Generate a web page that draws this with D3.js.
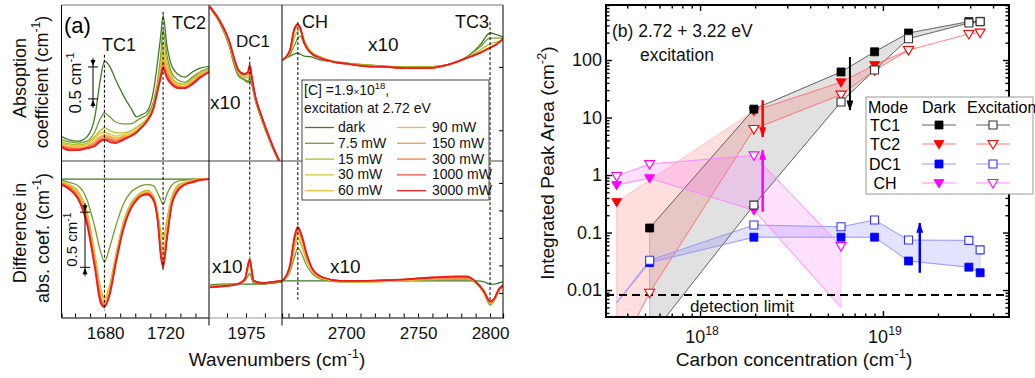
<!DOCTYPE html>
<html>
<head>
<meta charset="utf-8">
<script src="https://cdn.jsdelivr.net/npm/d3@7"></script>
<style>
  body { margin: 0; background: #fff; }
  svg { display: block; font-family: "Liberation Sans", Arial, sans-serif; }
</style>
</head>
<body>
<svg id="chart" width="1035" height="378"></svg>
<script>
// ---------------- panel (a): spectra ----------------
const powers = ['dark', '7.5 mW', '15 mW', '30 mW', '60 mW', '90 mW', '150 mW', '300 mW', '1000 mW', '3000 mW'];

// absorption, 1651-1749 cm-1 (cm-1)
const absLeftWn = [1651, 1656, 1662, 1668, 1673, 1677, 1679.5, 1683, 1687, 1692, 1697, 1701, 1704, 1708, 1712, 1715, 1717, 1718.5, 1721, 1724, 1728, 1733, 1738, 1743, 1749];
const absLeft = [
  [0.38, 0.33, 0.31, 0.38, 0.67, 1.30, 1.56, 1.48, 1.27, 1.03, 0.83, 0.69, 0.72, 0.78, 1.08, 1.58, 1.97, 2.27, 1.81, 1.50, 1.36, 1.31, 1.39, 1.45, 1.48],
  [0.33, 0.30, 0.28, 0.31, 0.45, 0.67, 0.75, 0.69, 0.61, 0.58, 0.58, 0.63, 0.67, 0.73, 0.92, 1.27, 1.66, 2.05, 1.66, 1.39, 1.27, 1.23, 1.31, 1.39, 1.45],
  [0.30, 0.27, 0.25, 0.28, 0.38, 0.48, 0.52, 0.48, 0.44, 0.44, 0.47, 0.53, 0.58, 0.67, 0.88, 1.20, 1.55, 1.86, 1.55, 1.33, 1.22, 1.20, 1.28, 1.38, 1.44],
  [0.28, 0.25, 0.23, 0.27, 0.34, 0.44, 0.45, 0.42, 0.39, 0.41, 0.44, 0.50, 0.55, 0.66, 0.86, 1.17, 1.48, 1.73, 1.48, 1.30, 1.20, 1.19, 1.27, 1.36, 1.42],
  [0.27, 0.23, 0.22, 0.25, 0.31, 0.39, 0.41, 0.39, 0.36, 0.39, 0.42, 0.48, 0.53, 0.64, 0.84, 1.16, 1.44, 1.66, 1.44, 1.28, 1.19, 1.17, 1.25, 1.34, 1.42],
  [0.25, 0.22, 0.20, 0.23, 0.30, 0.38, 0.39, 0.38, 0.34, 0.38, 0.41, 0.47, 0.53, 0.64, 0.84, 1.14, 1.41, 1.61, 1.41, 1.27, 1.17, 1.16, 1.23, 1.33, 1.41],
  [0.25, 0.20, 0.20, 0.22, 0.28, 0.36, 0.38, 0.36, 0.33, 0.36, 0.41, 0.47, 0.53, 0.64, 0.83, 1.14, 1.38, 1.56, 1.38, 1.25, 1.17, 1.16, 1.23, 1.33, 1.41],
  [0.23, 0.20, 0.19, 0.22, 0.27, 0.34, 0.36, 0.34, 0.31, 0.36, 0.39, 0.45, 0.52, 0.63, 0.83, 1.13, 1.36, 1.53, 1.36, 1.23, 1.16, 1.14, 1.22, 1.31, 1.39],
  [0.23, 0.19, 0.19, 0.20, 0.25, 0.33, 0.34, 0.33, 0.30, 0.34, 0.39, 0.45, 0.52, 0.63, 0.83, 1.13, 1.34, 1.48, 1.33, 1.22, 1.16, 1.14, 1.22, 1.31, 1.39],
  [0.22, 0.17, 0.17, 0.20, 0.23, 0.31, 0.33, 0.30, 0.28, 0.33, 0.39, 0.45, 0.52, 0.63, 0.81, 1.11, 1.31, 1.45, 1.30, 1.20, 1.14, 1.14, 1.20, 1.30, 1.39]
];

// absorption x10, DC1 region
const absMidWn = [1956, 1961, 1966, 1969, 1971, 1974, 1976, 1977, 1978, 1980, 1983, 1986, 1990, 1994];
const absMid = [
  [2.39, 2.17, 1.81, 1.48, 1.33, 1.27, 1.23, 1.25, 1.20, 0.94, 0.67, 0.42, 0.14, -0.11],
  [2.39, 2.17, 1.83, 1.50, 1.34, 1.28, 1.25, 1.28, 1.22, 0.95, 0.67, 0.44, 0.14, -0.11],
  [2.39, 2.19, 1.84, 1.53, 1.38, 1.31, 1.30, 1.34, 1.27, 0.97, 0.69, 0.44, 0.16, -0.11],
  [2.41, 2.19, 1.86, 1.55, 1.39, 1.33, 1.33, 1.39, 1.28, 0.98, 0.70, 0.45, 0.16, -0.09],
  [2.41, 2.19, 1.86, 1.55, 1.39, 1.33, 1.34, 1.42, 1.30, 0.98, 0.70, 0.45, 0.16, -0.09],
  [2.41, 2.20, 1.88, 1.56, 1.41, 1.34, 1.36, 1.44, 1.30, 0.98, 0.70, 0.45, 0.17, -0.09],
  [2.41, 2.20, 1.88, 1.56, 1.41, 1.34, 1.36, 1.45, 1.31, 1.00, 0.72, 0.47, 0.17, -0.09],
  [2.41, 2.20, 1.89, 1.58, 1.42, 1.36, 1.38, 1.47, 1.31, 1.00, 0.72, 0.47, 0.17, -0.08],
  [2.41, 2.20, 1.89, 1.58, 1.42, 1.36, 1.39, 1.48, 1.33, 1.00, 0.72, 0.47, 0.17, -0.08],
  [2.41, 2.20, 1.89, 1.58, 1.42, 1.36, 1.39, 1.50, 1.33, 1.00, 0.72, 0.47, 0.17, -0.08]
];

// absorption x10, CH / TC3 region
const absRightWn = [2656, 2661, 2664, 2666.5, 2668, 2671, 2675, 2682, 2691, 2700, 2714, 2728, 2742, 2756, 2770, 2784, 2793, 2800, 2805, 2809];
const absRight = [
  [1.58, 1.64, 1.67, 1.69, 1.67, 1.64, 1.63, 1.58, 1.55, 1.53, 1.50, 1.48, 1.47, 1.47, 1.50, 1.63, 1.81, 2.00, 1.97, 1.94],
  [1.58, 1.66, 1.80, 1.92, 1.95, 1.83, 1.70, 1.61, 1.56, 1.53, 1.50, 1.48, 1.47, 1.47, 1.50, 1.63, 1.78, 1.92, 1.92, 1.92],
  [1.58, 1.69, 1.92, 2.03, 2.05, 1.89, 1.73, 1.63, 1.56, 1.53, 1.50, 1.48, 1.47, 1.47, 1.50, 1.61, 1.73, 1.83, 1.86, 1.89],
  [1.58, 1.72, 2.02, 2.10, 2.07, 1.85, 1.71, 1.62, 1.55, 1.52, 1.48, 1.47, 1.45, 1.45, 1.50, 1.61, 1.70, 1.78, 1.83, 1.91],
  [1.58, 1.72, 2.04, 2.11, 2.08, 1.85, 1.70, 1.61, 1.55, 1.52, 1.48, 1.47, 1.45, 1.45, 1.50, 1.61, 1.69, 1.77, 1.83, 1.91],
  [1.58, 1.73, 2.05, 2.12, 2.08, 1.84, 1.70, 1.61, 1.55, 1.52, 1.48, 1.47, 1.45, 1.45, 1.50, 1.61, 1.69, 1.77, 1.83, 1.91],
  [1.58, 1.73, 2.05, 2.12, 2.09, 1.84, 1.70, 1.61, 1.55, 1.52, 1.48, 1.47, 1.45, 1.45, 1.50, 1.61, 1.69, 1.77, 1.83, 1.91],
  [1.58, 1.73, 2.06, 2.13, 2.09, 1.84, 1.70, 1.61, 1.55, 1.52, 1.48, 1.47, 1.45, 1.45, 1.50, 1.61, 1.69, 1.77, 1.83, 1.91],
  [1.58, 1.73, 2.06, 2.13, 2.09, 1.84, 1.70, 1.61, 1.55, 1.52, 1.48, 1.47, 1.45, 1.45, 1.50, 1.61, 1.69, 1.77, 1.83, 1.91],
  [1.58, 1.73, 2.06, 2.14, 2.09, 1.84, 1.70, 1.61, 1.55, 1.52, 1.48, 1.47, 1.45, 1.45, 1.50, 1.61, 1.69, 1.77, 1.83, 1.91]
];

// difference in absorption, 1651-1749 cm-1 (cm-1)
const diffLeftWn = absLeftWn;
const diffLeft = [
  [0, 0, 0, 0, 0, 0, 0, 0, 0, 0, 0, 0, 0, 0, 0, 0, 0, 0, 0, 0, 0, 0, 0, 0, 0],
  [-0.01, -0.03, -0.06, -0.19, -0.43, -0.66, -0.75, -0.62, -0.43, -0.23, -0.12, -0.08, -0.06, -0.05, -0.06, -0.13, -0.19, -0.23, -0.14, -0.06, -0.02, -0.01, 0, 0, 0],
  [-0.02, -0.05, -0.11, -0.30, -0.66, -0.99, -1.08, -0.96, -0.69, -0.39, -0.22, -0.15, -0.12, -0.10, -0.15, -0.30, -0.48, -0.55, -0.37, -0.17, -0.06, -0.03, -0.01, 0, 0],
  [-0.03, -0.05, -0.13, -0.33, -0.70, -1.03, -1.11, -0.99, -0.72, -0.41, -0.24, -0.16, -0.13, -0.11, -0.15, -0.33, -0.55, -0.65, -0.43, -0.19, -0.07, -0.03, -0.01, 0, 0],
  [-0.03, -0.06, -0.14, -0.35, -0.72, -1.05, -1.12, -1.00, -0.73, -0.42, -0.25, -0.16, -0.14, -0.11, -0.16, -0.35, -0.60, -0.69, -0.46, -0.21, -0.08, -0.04, -0.01, 0, 0],
  [-0.04, -0.06, -0.15, -0.35, -0.73, -1.05, -1.13, -1.01, -0.74, -0.43, -0.25, -0.17, -0.14, -0.12, -0.16, -0.35, -0.63, -0.72, -0.48, -0.22, -0.08, -0.04, -0.01, 0, 0],
  [-0.04, -0.07, -0.15, -0.36, -0.74, -1.06, -1.14, -1.02, -0.75, -0.44, -0.25, -0.17, -0.15, -0.12, -0.17, -0.36, -0.65, -0.75, -0.50, -0.23, -0.09, -0.04, -0.02, 0, 0],
  [-0.04, -0.07, -0.16, -0.37, -0.75, -1.08, -1.15, -1.03, -0.75, -0.45, -0.26, -0.18, -0.15, -0.13, -0.17, -0.37, -0.66, -0.76, -0.52, -0.24, -0.09, -0.05, -0.02, 0, 0],
  [-0.05, -0.08, -0.17, -0.39, -0.77, -1.10, -1.15, -1.04, -0.76, -0.45, -0.26, -0.18, -0.15, -0.13, -0.18, -0.38, -0.68, -0.78, -0.54, -0.25, -0.10, -0.05, -0.02, -0.01, 0],
  [-0.05, -0.09, -0.18, -0.41, -0.79, -1.12, -1.16, -1.05, -0.77, -0.46, -0.27, -0.19, -0.15, -0.14, -0.19, -0.39, -0.70, -0.80, -0.55, -0.25, -0.11, -0.05, -0.03, -0.01, 0]
];

// difference x10, DC1 region
const diffMidWn = [1956, 1962, 1968, 1972, 1974.5, 1976, 1977, 1978, 1979, 1984, 1989, 1994];
const diffMid = [
  [-0.02, -0.01, -0.01, -0.01, -0.01, -0.01, -0.01, -0.01, -0.01, -0.01, 0, 0.01],
  [-0.03, -0.02, -0.01, 0, 0.02, 0.06, 0.09, 0.04, 0, -0.01, 0, 0.01],
  [-0.03, -0.02, -0.02, 0, 0.03, 0.12, 0.16, 0.09, 0.01, 0, 0.01, 0.02],
  [-0.04, -0.03, -0.02, 0, 0.03, 0.13, 0.18, 0.10, 0.02, 0, 0.01, 0.02],
  [-0.04, -0.03, -0.02, 0, 0.04, 0.14, 0.19, 0.10, 0.02, 0, 0.01, 0.02],
  [-0.04, -0.03, -0.02, 0, 0.04, 0.14, 0.20, 0.11, 0.02, 0, 0.01, 0.02],
  [-0.04, -0.03, -0.02, 0, 0.04, 0.15, 0.20, 0.11, 0.02, 0, 0.01, 0.02],
  [-0.04, -0.03, -0.02, 0, 0.04, 0.15, 0.21, 0.12, 0.02, 0, 0.01, 0.02],
  [-0.04, -0.03, -0.02, 0, 0.04, 0.16, 0.21, 0.12, 0.02, 0, 0.01, 0.02],
  [-0.04, -0.03, -0.02, 0, 0.04, 0.16, 0.22, 0.12, 0.02, 0, 0.01, 0.02]
];

// difference x10, CH / TC3 region
const diffRightWn = [2656, 2661, 2664.5, 2666.5, 2669, 2673, 2677, 2684, 2696, 2714, 2737, 2760, 2777, 2784, 2791, 2796, 2800, 2803, 2806, 2809];
const diffRight = [
  [0.02, 0.02, 0.02, 0.02, 0.02, 0.02, 0.02, 0.02, 0.02, 0.02, 0.02, 0.02, 0.02, 0.02, 0.02, 0.01, -0.01, -0.01, 0, 0.01],
  [0.02, 0.10, 0.25, 0.32, 0.27, 0.15, 0.08, 0.03, 0.01, 0.01, 0.02, 0.03, 0.03, 0.03, -0.01, -0.10, -0.20, -0.16, -0.08, -0.03],
  [0.02, 0.12, 0.33, 0.41, 0.34, 0.19, 0.10, 0.04, 0.01, 0.01, 0.02, 0.03, 0.04, 0.04, -0.01, -0.10, -0.19, -0.16, -0.07, -0.03],
  [0.02, 0.13, 0.37, 0.45, 0.38, 0.21, 0.10, 0.04, 0.02, 0.01, 0.02, 0.04, 0.04, 0.04, 0, -0.09, -0.18, -0.15, -0.07, -0.02],
  [0.02, 0.14, 0.39, 0.47, 0.40, 0.22, 0.11, 0.04, 0.02, 0.02, 0.02, 0.04, 0.04, 0.04, 0, -0.09, -0.18, -0.15, -0.07, -0.02],
  [0.02, 0.14, 0.40, 0.48, 0.41, 0.23, 0.11, 0.05, 0.02, 0.02, 0.03, 0.04, 0.05, 0.05, 0, -0.09, -0.17, -0.14, -0.06, -0.02],
  [0.02, 0.15, 0.41, 0.49, 0.42, 0.23, 0.11, 0.05, 0.02, 0.02, 0.03, 0.04, 0.05, 0.05, 0, -0.08, -0.17, -0.14, -0.06, -0.02],
  [0.02, 0.15, 0.42, 0.50, 0.43, 0.24, 0.12, 0.05, 0.02, 0.02, 0.03, 0.05, 0.05, 0.05, 0, -0.08, -0.17, -0.14, -0.06, -0.02],
  [0.02, 0.16, 0.43, 0.50, 0.43, 0.24, 0.12, 0.05, 0.02, 0.02, 0.03, 0.05, 0.05, 0.05, 0, -0.08, -0.17, -0.14, -0.06, -0.02],
  [0.02, 0.16, 0.44, 0.51, 0.44, 0.25, 0.12, 0.05, 0.02, 0.02, 0.03, 0.05, 0.06, 0.06, 0, -0.08, -0.17, -0.14, -0.06, -0.02]
];

// peak positions (cm-1) and tick labels
const peakNames = ['TC1', 'TC2', 'DC1', 'CH', 'TC3'];
const peakWn = [1679.5, 1718.5, 1977, 2666.5, 2800];
const aLeftTicks = [1680, 1720];
const aMidTicks = [1975];
const aRightTicks = [2700, 2750, 2800];

// ---------------- panel (b): integrated peak areas ----------------
const carbonConc = [3.5e17, 5.3e17, 1.97e18, 5.9e18, 9.0e18, 1.38e19, 2.95e19, 3.4e19];
const tc1Dark = [null, 0.12, 14, 62, 139, 295, 465, 470];
const tc1Exc = [null, 0.0015, 0.30, 18.6, 67, 235, 440, 465];
const tc2Dark = [0.34, null, 13, 41, 82, 150, null, null];
const tc2Exc = [0.0007, 0.009, 6.3, 25, 66, 149, 283, 300];
const dc1Dark = [0.006, 0.030, 0.083, 0.083, 0.083, 0.032, 0.025, 0.020];
const dc1Exc = [0.006, 0.033, 0.135, 0.126, 0.165, 0.074, 0.073, 0.050];
const chDark = [0.67, 0.88, 0.245, 0.005, null, null, null, null];
const chExc = [0.96, 1.55, 2.2, 0.058, null, null, null, null];
const detectionLimit = 0.0082;
const bYTicks = [0.01, 0.1, 1, 10, 100];
const bXTicks = [1e18, 1e19];

// arrows: concentration, start area, end area
const arrowConc = [6.6e18, 2.2e18, 2.2e18, 1.59e19];
const arrowFrom = [113, 20, 0.23, 0.02];
const arrowTo = [13.5, 4.6, 2.7, 0.146];

// ---------------- drawing ----------------
const svg = d3.select('#chart');
const defs = svg.append('defs');

const powerColors = ['#3e7b22', '#739c2c', '#b2bd25', '#d9c935', '#ecc044', '#f6b451', '#f89c4c', '#f47b46', '#f4544a', '#ec1c1c'];

const A = { left: 61.5, d1: 209, d2: 282, right: 503, top: 5, mid: 161, bottom: 317.5 };
const B = { left: 606, right: 1009, top: 5, bottom: 317 };

const xL = d3.scaleLinear().domain([1651, 1749]).range([A.left, A.d1]);
const xM = d3.scaleLinear().domain([1955.5, 1994]).range([A.d1, A.d2]);
const xR = d3.scaleLinear().domain([2655.5, 2809]).range([A.d2, A.right]);
const yTop = d3.scaleLinear().domain([0, 2.4375]).range([A.mid, A.top]);
const yBotL = d3.scaleLinear().domain([-1.255, 0.1636]).range([A.bottom, A.mid]);
const yBotX = d3.scaleLinear().domain([-0.3136, 1.109]).range([A.bottom, A.mid]);

const subpanels = [
  { x: xL, y: yTop, wn: absLeftWn, rows: absLeft, y0: A.top, y1: A.mid },
  { x: xM, y: yTop, wn: absMidWn, rows: absMid, y0: A.top, y1: A.mid },
  { x: xR, y: yTop, wn: absRightWn, rows: absRight, y0: A.top, y1: A.mid },
  { x: xL, y: yBotL, wn: diffLeftWn, rows: diffLeft, y0: A.mid, y1: A.bottom },
  { x: xM, y: yBotX, wn: diffMidWn, rows: diffMid, y0: A.mid, y1: A.bottom },
  { x: xR, y: yBotX, wn: diffRightWn, rows: diffRight, y0: A.mid, y1: A.bottom }
];

// rich text helper: parts are strings or {sup: '...'} / {small: '...'}
function richText(sel, x, y, parts, size, anchor) {
  const t = sel.append('text')
    .attr('x', x).attr('y', y)
    .attr('font-size', size)
    .attr('text-anchor', anchor || 'start')
    .attr('fill', '#111');
  let shift = 0;
  parts.forEach((p) => {
    const ts = t.append('tspan');
    if (typeof p === 'string') {
      ts.text(p).attr('dy', -shift);
      shift = 0;
    } else if (p.sup) {
      const up = size * 0.42;
      ts.text(p.sup).attr('font-size', size * 0.68).attr('dy', -up - shift);
      shift = -up;
    } else if (p.small) {
      ts.text(p.small).attr('font-size', size * 0.7).attr('dy', -shift);
      shift = 0;
    }
  });
  return t;
}

//
// Spectra
//
subpanels.forEach((p, i) => {
  const x0 = p.x.range()[0];
  const x1 = p.x.range()[1];
  defs.append('clipPath').attr('id', 'clipA' + i)
    .append('rect')
    .attr('x', x0).attr('y', p.y0)
    .attr('width', x1 - x0).attr('height', p.y1 - p.y0);

  const g = svg.append('g').attr('clip-path', `url(#clipA${i})`);
  const line = d3.line()
    .curve(d3.curveMonotoneX)
    .x((d, j) => p.x(p.wn[j]))
    .y((d) => p.y(d));

  p.rows.forEach((row, k) => {
    g.append('path')
      .attr('d', line(row))
      .attr('fill', 'none')
      .attr('stroke', powerColors[k])
      .attr('stroke-width', k === 9 ? 1.8 : 1.3)
      .attr('stroke-linejoin', 'round');
  });
});

//
// Peak markers (dashed)
//
const peakTopStart = [1.66, 2.33, 1.63, 2.17, 2.17];
const peakBottomEnd = [-1.19, -0.83, 0.23, -0.15, -0.17];
const peakX = [xL, xL, xM, xR, xR];
const peakBotY = [yBotL, yBotL, yBotX, yBotX, yBotX];
peakWn.forEach((w, i) => {
  svg.append('line')
    .attr('x1', peakX[i](w)).attr('x2', peakX[i](w))
    .attr('y1', yTop(peakTopStart[i]))
    .attr('y2', peakBotY[i](peakBottomEnd[i]))
    .attr('stroke', '#000')
    .attr('stroke-width', 1)
    .attr('stroke-dasharray', '3,2');
});

//
// Frames for panel (a)
//
const frame = svg.append('g').attr('fill', 'none');
frame.append('line').attr('x1', A.left).attr('x2', A.right).attr('y1', A.top).attr('y2', A.top).attr('stroke', '#777');
frame.append('line').attr('x1', A.left).attr('x2', A.right).attr('y1', A.mid).attr('y2', A.mid).attr('stroke', '#444');
frame.append('line').attr('x1', A.left).attr('x2', A.left).attr('y1', A.top).attr('y2', A.bottom).attr('stroke', '#000');
frame.append('line').attr('x1', A.right).attr('x2', A.right).attr('y1', A.top).attr('y2', A.bottom).attr('stroke', '#000');
[A.d1, A.d2].forEach((xd) => {
  frame.append('line').attr('x1', xd).attr('x2', xd).attr('y1', A.top).attr('y2', A.bottom + 8).attr('stroke', '#000');
});

// bottom axes
function bottomAxis(scale, ticks, labels, color) {
  const g = svg.append('g').attr('transform', `translate(0,${A.bottom})`);
  g.call(d3.axisBottom(scale).tickValues(ticks).tickSize(-4).tickPadding(9)
    .tickFormat((d) => (labels.includes(d) ? d : '')));
  g.select('.domain').attr('stroke', color).attr('stroke-width', 1.2);
  g.selectAll('.tick line').attr('stroke', '#000');
  g.selectAll('.tick text')
    .attr('font-size', 17)
    .attr('font-family', '"Liberation Sans", Arial, sans-serif')
    .attr('fill', '#111');
}
bottomAxis(xL, d3.range(1660, 1750, 10), aLeftTicks, '#000');
bottomAxis(xM, [1965, 1975, 1985], aMidTicks, '#999');
bottomAxis(xR, d3.range(2660, 2810, 10), aRightTicks, '#000');

// inward ticks on right edge
const rightTopTicks = [0.48, 1.47];
const rightBotTicks = [-0.09, 0.16, 0.41, 0.66, 0.91];
[[yTop, rightTopTicks], [yBotX, rightBotTicks]].forEach(([sc, tv]) => {
  const g = svg.append('g').attr('transform', `translate(${A.right},0)`);
  g.call(d3.axisLeft(sc).tickValues(tv).tickSize(4).tickFormat(''));
  g.select('.domain').remove();
  g.selectAll('.tick line').attr('stroke', '#000');
});

//
// Scale bars (0.5 cm-1)
//
function scaleBar(xc, sc, v0, v1, labelX, fontSize) {
  const g = svg.append('g');
  const ya = sc(v0);
  const yb = sc(v1);
  const top = Math.min(ya, yb);
  const bot = Math.max(ya, yb);
  g.append('line').attr('x1', xc).attr('x2', xc).attr('y1', top - 9).attr('y2', bot + 9).attr('stroke', '#000');
  [top, bot].forEach((yy) => {
    g.append('line').attr('x1', xc - 5).attr('x2', xc + 5).attr('y1', yy).attr('y2', yy).attr('stroke', '#000');
  });
  g.append('path').attr('d', `M${xc - 2.5},${top - 7} L${xc + 2.5},${top - 7} L${xc},${top - 1} Z`).attr('fill', '#000');
  g.append('path').attr('d', `M${xc - 2.5},${bot + 7} L${xc + 2.5},${bot + 7} L${xc},${bot + 1} Z`).attr('fill', '#000');
  const lg = svg.append('g').attr('transform', `translate(${labelX},${(top + bot) / 2}) rotate(-90)`);
  richText(lg, 0, 0, ['0.5 cm', { sup: '-1' }], fontSize, 'middle');
}
scaleBar(93, yTop, 0.97, 1.47, 81, 17);
scaleBar(85, yBotL, -0.30, -0.80, 77, 15);

//
// Texts of panel (a)
//
svg.append('text').attr('x', 64).attr('y', 33).attr('font-size', 22).text('(a)');
const peakLabelPos = [[102, 51], [172, 29], [236, 47], [302, 28], [455, 28]];
peakNames.forEach((n, i) => {
  svg.append('text').attr('x', peakLabelPos[i][0]).attr('y', peakLabelPos[i][1])
    .attr('font-size', n === 'DC1' ? 17 : 18).attr('fill', '#111').text(n);
});
[[210, 109], [368, 51], [212, 273], [330, 273]].forEach(([tx, ty]) => {
  svg.append('text').attr('x', tx).attr('y', ty).attr('font-size', 19).attr('fill', '#111').text('x10');
});

// y labels
function rotLabel(cx, cy, parts, size) {
  const g = svg.append('g').attr('transform', `translate(${cx},${cy}) rotate(-90)`);
  richText(g, 0, 0, parts, size, 'middle');
}
rotLabel(26, 78, ['Absoption'], 18);
rotLabel(48, 82, ['coefficient (cm', { sup: '-1' }, ')'], 18);
rotLabel(26, 233, ['Difference in'], 18);
rotLabel(49, 238, ['abs. coef. (cm', { sup: '-1' }, ')'], 18);

richText(svg, 277, 366, ['Wavenumbers (cm', { sup: '-1' }, ')'], 19, 'middle');

//
// Legend of panel (a)
//
const legA = svg.append('g');
legA.append('rect').attr('x', 302).attr('y', 80).attr('width', 187).attr('height', 120)
  .attr('fill', '#fff').attr('stroke', '#444');
richText(legA, 304, 95, ['[C] =1.9', { small: '×' }, '10', { sup: '18' }, ','], 14);
richText(legA, 304, 113, ['excitation at 2.72 eV'], 14);
powers.forEach((name, k) => {
  const col = k < 5 ? 0 : 1;
  const row = k % 5;
  const by = 132 + row * 15.8;
  const lx = col === 0 ? 305 : 397;
  legA.append('line').attr('x1', lx).attr('x2', lx + 29).attr('y1', by - 4.5).attr('y2', by - 4.5)
    .attr('stroke', powerColors[k]).attr('stroke-width', 1.3);
  legA.append('text').attr('x', col === 0 ? 338 : 432).attr('y', by)
    .attr('font-size', 14).attr('fill', '#111').text(name);
});

// ---------------- panel (b) ----------------
const xB = d3.scaleLog().domain([3.06e17, 4.89e19]).range([B.left, B.right]);
const yB = d3.scaleLog().domain([0.0034, 905]).range([B.bottom, B.top]);

defs.append('clipPath').attr('id', 'clipB')
  .append('rect').attr('x', B.left).attr('y', B.top)
  .attr('width', B.right - B.left).attr('height', B.bottom - B.top);

const modes = [
  { name: 'TC1', dark: tc1Dark, exc: tc1Exc },
  { name: 'TC2', dark: tc2Dark, exc: tc2Exc },
  { name: 'DC1', dark: dc1Dark, exc: dc1Exc },
  { name: 'CH', dark: chDark, exc: chExc }
];
const modeStyle = {
  TC1: { color: '#000', excStroke: '#333', line: '#666', fill: 'rgba(120,120,120,0.22)', shape: 'square' },
  TC2: { color: '#f00', excStroke: '#f00', line: '#f77', fill: 'rgba(255,90,90,0.2)', shape: 'tri' },
  DC1: { color: '#00f', excStroke: '#33f', line: '#99f', fill: 'rgba(90,90,255,0.17)', shape: 'square' },
  CH: { color: '#f0f', excStroke: '#f0f', line: '#f8f', fill: 'rgba(255,80,255,0.17)', shape: 'tri' }
};

const plotB = svg.append('g').attr('clip-path', 'url(#clipB)');

// shaded bands
modes.forEach((m) => {
  const idx = m.dark.map((v, i) => (v != null ? i : -1)).filter((i) => i >= 0);
  const first = idx[0];
  const last = idx[idx.length - 1];
  const top = idx.map((i) => [xB(carbonConc[i]), yB(m.dark[i])]);
  const bottom = d3.range(last, first - 1, -1)
    .filter((i) => m.exc[i] != null)
    .map((i) => [xB(carbonConc[i]), yB(m.exc[i])]);
  plotB.append('path')
    .attr('d', d3.line()(top.concat(bottom)) + 'Z')
    .attr('fill', modeStyle[m.name].fill)
    .attr('stroke', modeStyle[m.name].line)
    .attr('stroke-width', 0.6)
    .attr('stroke-opacity', 0.6);
});

// connecting lines
modes.forEach((m) => {
  [m.dark, m.exc].forEach((arr) => {
    const line = d3.line()
      .defined((d) => d != null)
      .x((d, i) => xB(carbonConc[i]))
      .y((d) => yB(d));
    plotB.append('path')
      .attr('d', line(arr))
      .attr('fill', 'none')
      .attr('stroke', modeStyle[m.name].line)
      .attr('stroke-width', 0.9);
  });
});

// detection limit
plotB.append('line')
  .attr('x1', B.left).attr('x2', B.right)
  .attr('y1', yB(detectionLimit)).attr('y2', yB(detectionLimit))
  .attr('stroke', '#000').attr('stroke-width', 2).attr('stroke-dasharray', '8,5');

// marker drawing
function markerPath(shape) {
  if (shape === 'square') return 'M-4,-4 L4,-4 L4,4 L-4,4 Z';
  return 'M-5,-3.5 L5,-3.5 L0,5 Z';
}
function drawMarker(g, cx, cy, shape, filled, color) {
  g.append('path')
    .attr('transform', `translate(${cx},${cy})`)
    .attr('d', markerPath(shape))
    .attr('fill', filled ? color : '#fff')
    .attr('stroke', color)
    .attr('stroke-width', filled ? 0.8 : 1.1);
}

const markerOrder = ['CH', 'DC1', 'TC2', 'TC1'];
markerOrder.forEach((name) => {
  const m = modes.find((d) => d.name === name);
  const st = modeStyle[name];
  m.dark.forEach((v, i) => {
    if (v != null && v >= detectionLimit) drawMarker(plotB, xB(carbonConc[i]), yB(v), st.shape, true, st.color);
  });
});
markerOrder.forEach((name) => {
  const m = modes.find((d) => d.name === name);
  const st = modeStyle[name];
  m.exc.forEach((v, i) => {
    if (v != null && v >= detectionLimit) drawMarker(plotB, xB(carbonConc[i]), yB(v), st.shape, false, st.excStroke);
  });
});

// arrows
const arrowColors = ['#000', '#f00', '#f0f', '#00f'];
arrowColors.forEach((c, i) => {
  defs.append('marker').attr('id', 'ah' + i)
    .attr('viewBox', '0 0 12 8').attr('refX', 11).attr('refY', 4)
    .attr('markerWidth', 11).attr('markerHeight', 7)
    .attr('markerUnits', 'userSpaceOnUse').attr('orient', 'auto')
    .append('path').attr('d', 'M0,0 L12,4 L0,8 Z').attr('fill', c);
});
arrowConc.forEach((c, i) => {
  svg.append('line')
    .attr('x1', xB(c)).attr('x2', xB(c))
    .attr('y1', yB(arrowFrom[i])).attr('y2', yB(arrowTo[i]))
    .attr('stroke', arrowColors[i])
    .attr('stroke-width', i === 0 ? 2 : 2.5)
    .attr('marker-end', `url(#ah${i})`);
});

// axes of panel (b)
function logMinor(lo, hi) {
  const out = [];
  for (let e = Math.floor(Math.log10(lo)); e <= Math.ceil(Math.log10(hi)); e++) {
    for (let k = 2; k <= 9; k++) {
      const v = k * Math.pow(10, e);
      if (v > lo && v < hi) out.push(v);
    }
  }
  return out;
}
const yMinor = logMinor(0.0034, 905);
const xMinor = logMinor(3.06e17, 4.89e19);

function styleAxis(g) {
  g.select('.domain').remove();
  g.selectAll('.tick line').attr('stroke', '#000').attr('stroke-width', 1.4);
}

// left
const yAxisL = svg.append('g').attr('transform', `translate(${B.left},0)`)
  .call(d3.axisLeft(yB).tickValues(bYTicks).tickSize(-6).tickPadding(4).tickFormat((d) => String(d)));
styleAxis(yAxisL);
yAxisL.selectAll('.tick text').attr('font-size', 18).attr('fill', '#111')
  .attr('font-family', '"Liberation Sans", Arial, sans-serif');
styleAxis(svg.append('g').attr('transform', `translate(${B.left},0)`)
  .call(d3.axisLeft(yB).tickValues(yMinor).tickSize(-3.5).tickFormat('')));
// right
styleAxis(svg.append('g').attr('transform', `translate(${B.right},0)`)
  .call(d3.axisRight(yB).tickValues(bYTicks).tickSize(-6).tickFormat('')));
styleAxis(svg.append('g').attr('transform', `translate(${B.right},0)`)
  .call(d3.axisRight(yB).tickValues(yMinor).tickSize(-3.5).tickFormat('')));
// bottom
styleAxis(svg.append('g').attr('transform', `translate(0,${B.bottom})`)
  .call(d3.axisBottom(xB).tickValues(bXTicks).tickSize(-6).tickFormat('')));
styleAxis(svg.append('g').attr('transform', `translate(0,${B.bottom})`)
  .call(d3.axisBottom(xB).tickValues(xMinor).tickSize(-3.5).tickFormat('')));
// top
styleAxis(svg.append('g').attr('transform', `translate(0,${B.top})`)
  .call(d3.axisTop(xB).tickValues(bXTicks).tickSize(-6).tickFormat('')));
styleAxis(svg.append('g').attr('transform', `translate(0,${B.top})`)
  .call(d3.axisTop(xB).tickValues(xMinor).tickSize(-3.5).tickFormat('')));

bXTicks.forEach((v) => {
  const e = Math.round(Math.log10(v));
  richText(svg, xB(v) + 2, B.bottom + 26, ['10', { sup: String(e) }], 18, 'middle');
});

svg.append('rect')
  .attr('x', B.left).attr('y', B.top)
  .attr('width', B.right - B.left).attr('height', B.bottom - B.top)
  .attr('fill', 'none').attr('stroke', '#000').attr('stroke-width', 2);

// texts of panel (b)
svg.append('text').attr('x', 612).attr('y', 37).attr('font-size', 17.5).attr('fill', '#111').text('(b) 2.72 + 3.22 eV');
svg.append('text').attr('x', 640).attr('y', 61).attr('font-size', 17.5).attr('fill', '#111').text('excitation');
svg.append('text').attr('x', 690).attr('y', 312).attr('font-size', 17).attr('fill', '#111').text('detection limit');

const bYLabel = svg.append('g').attr('transform', `translate(554,163) rotate(-90)`);
richText(bYLabel, 0, 0, ['Integrated Peak Area (cm', { sup: '-2' }, ')'], 19, 'middle');
richText(svg, 794, 366, ['Carbon concentration (cm', { sup: '-1' }, ')'], 19, 'middle');

// legend of panel (b)
const legB = svg.append('g');
legB.append('rect').attr('x', 866).attr('y', 97).attr('width', 167).attr('height', 97)
  .attr('fill', '#fff').attr('stroke', '#999');
legB.append('text').attr('x', 868).attr('y', 113).attr('font-size', 16).text('Mode');
legB.append('text').attr('x', 922).attr('y', 113).attr('font-size', 16).text('Dark');
legB.append('text').attr('x', 967).attr('y', 113).attr('font-size', 16).text('Excitation');
const legRowsY = [131, 150, 170, 189];
modes.forEach((m, i) => {
  const st = modeStyle[m.name];
  const by = legRowsY[i];
  const my = by - 6;
  legB.append('text').attr('x', 885).attr('y', by).attr('font-size', 16)
    .attr('text-anchor', 'middle').text(m.name);
  [[922, 956, 939, true], [976, 1010, 993, false]].forEach(([a, b, c, filled]) => {
    legB.append('line').attr('x1', a).attr('x2', b).attr('y1', my).attr('y2', my)
      .attr('stroke', st.line).attr('stroke-width', 1);
    drawMarker(legB, c, my, st.shape, filled, filled ? st.color : st.excStroke);
  });
});
</script>
</body>
</html>
